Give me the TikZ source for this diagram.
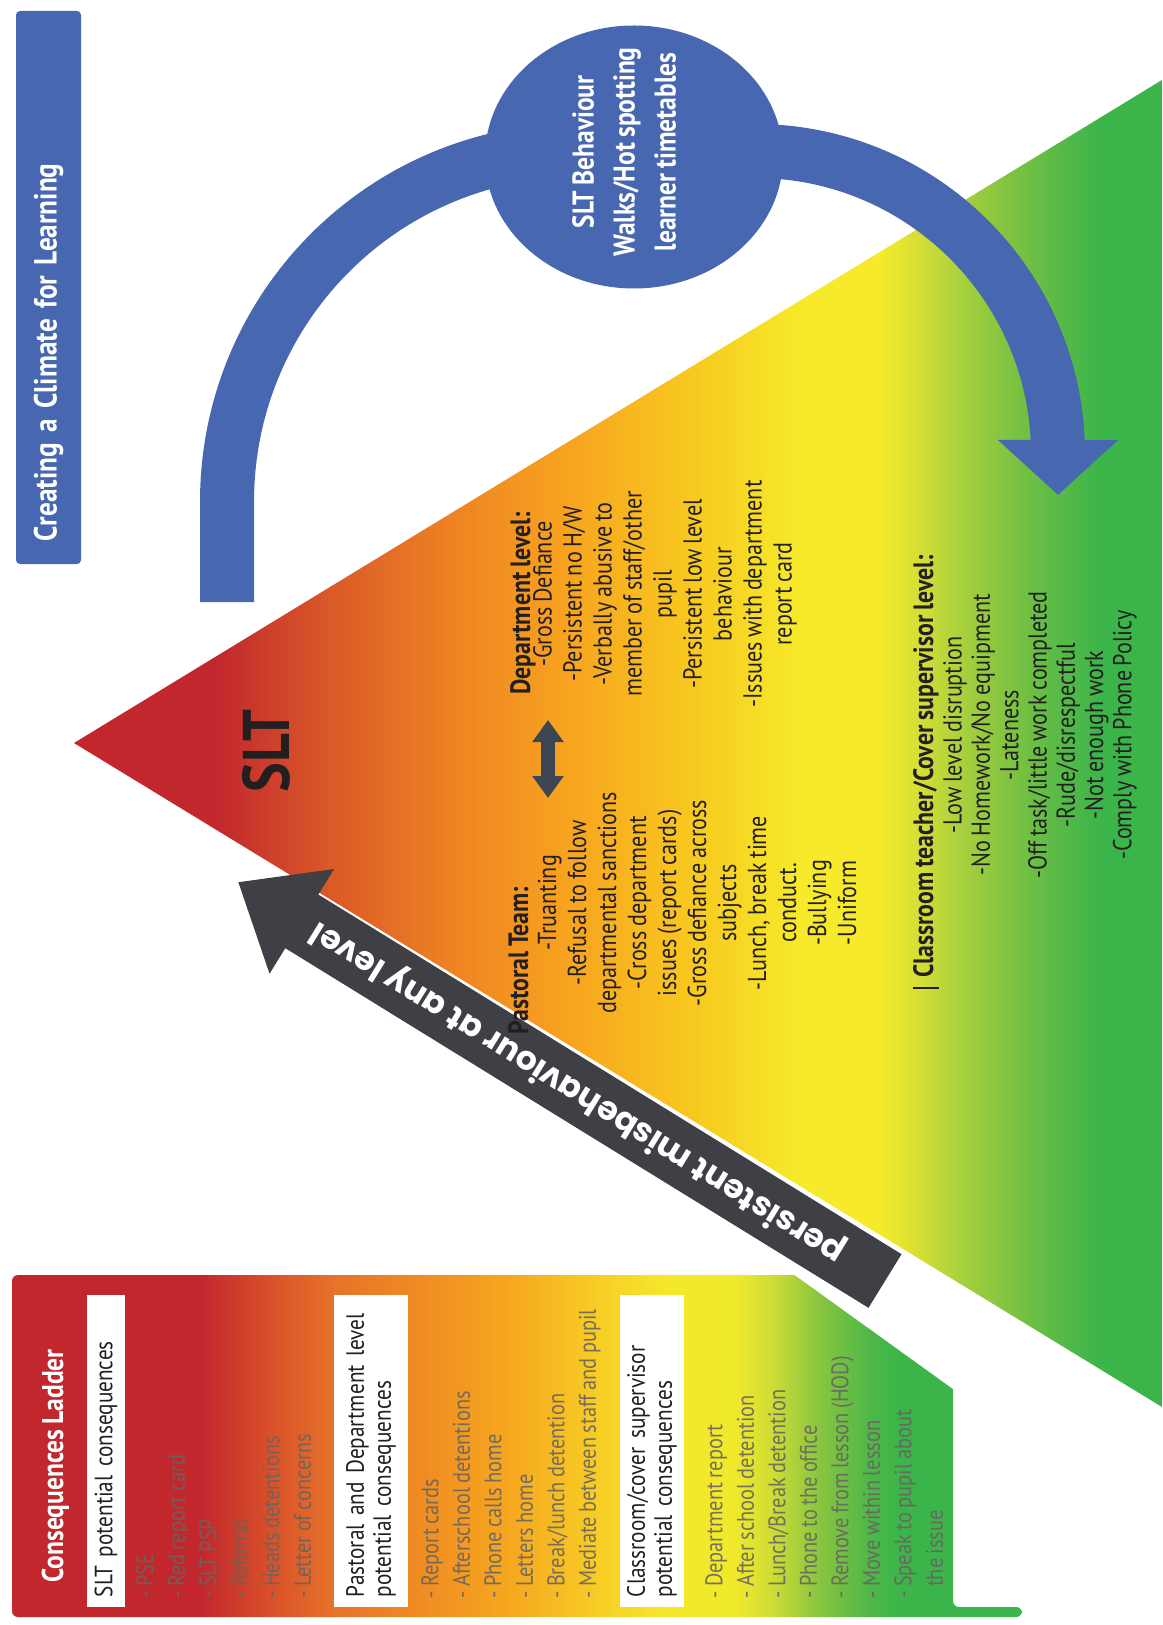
\documentclass[tikz,border=0pt]{standalone}
\usepackage{fontspec}
\setmainfont[FakeStretch=0.85,WordSpace=0.8]{PT Sans}
\newfontfamily\arrowfont{Poppins}
\usepackage{xcolor}
\usetikzlibrary{arrows.meta,positioning,shapes.geometric}

\definecolor{climblue}{RGB}{72,103,177}
\definecolor{arrowgrey}{RGB}{62,64,70}
\definecolor{slategrey}{RGB}{59,70,82}
\definecolor{inkblack}{RGB}{35,31,32}
\definecolor{itemgrey}{RGB}{105,100,95}
\definecolor{shRed}{RGB}{193,39,45}
\definecolor{shA}{RGB}{218,90,40}
\definecolor{shB}{RGB}{238,130,35}
\definecolor{shC}{RGB}{247,161,31}
\definecolor{shD}{RGB}{248,200,31}
\definecolor{shE}{RGB}{246,234,42}
\definecolor{shG}{RGB}{212,222,54}
\definecolor{shH}{RGB}{169,209,61}
\definecolor{shI}{RGB}{134,197,64}
\definecolor{shJ}{RGB}{93,187,70}
\definecolor{shGreen}{RGB}{59,181,74}
\definecolor{ldA}{RGB}{216,78,42}
\definecolor{ldB}{RGB}{230,115,42}
\definecolor{ldC}{RGB}{240,140,34}
\definecolor{ldD}{RGB}{246,169,31}
\definecolor{ldE}{RGB}{247,207,38}
\definecolor{ldF}{RGB}{245,232,42}
\definecolor{ldG}{RGB}{240,233,44}
\definecolor{ldH}{RGB}{207,221,53}
\definecolor{ldI}{RGB}{140,198,63}
\definecolor{ldJ}{RGB}{77,183,72}

\pgfdeclarehorizontalshading{pyramidshade}{100bp}{color(0bp)=(shRed); color(31.5bp)=(shRed); color(36.8bp)=(shA); color(42.3bp)=(shB); color(47.3bp)=(shC); color(53.3bp)=(shD); color(58.4bp)=(shE); color(62bp)=(shE); color(63.9bp)=(shG); color(65.7bp)=(shH); color(67.6bp)=(shI); color(69.9bp)=(shJ); color(72.2bp)=(shGreen); color(100bp)=(shGreen)}
\pgfdeclarehorizontalshading{laddershade}{100bp}{color(0bp)=(shRed); color(34.3bp)=(shRed); color(37.6bp)=(ldA); color(40.9bp)=(ldB); color(45.3bp)=(ldC); color(49.8bp)=(ldD); color(54.2bp)=(ldE); color(57.5bp)=(ldF); color(60.8bp)=(ldG); color(62.6bp)=(ldH); color(64.8bp)=(ldI); color(67.5bp)=(ldJ); color(69bp)=(shGreen); color(100bp)=(shGreen)}

\begin{document}
\begin{tikzpicture}
	[x=0.5pt,y=-0.5pt,
	rot/.style={rotate=90,inner sep=0pt},
	ladderitems/.style={rot,anchor=north west,align=left,text=itemgrey,text opacity=0.9,font=\fontsize{12}{15.75}\selectfont},
	subhead/.style={rot,fill=white,minimum width=156pt,text width=146pt,inner xsep=5pt,align=left,text=inkblack,font=\fontsize{12.5}{13.5}\selectfont},
	levelhead/.style={rot,anchor=base west,text=inkblack,font=\bfseries\fontsize{14}{16}\selectfont},
	levelbody/.style={rot,align=center,text=inkblack,font=\fontsize{13}{15}\selectfont},
	bluearc/.style={draw=climblue,line width=27pt,-{Triangle[width=58.5pt,length=27.5pt]}},
	misbehave/.style={draw=arrowgrey,line width=31.5pt,-{Triangle[width=59pt,length=37.5pt]}},
	twoway/.style={draw=slategrey,line width=7pt,{Triangle[width=15pt,length=11pt]}-{Triangle[width=15pt,length=11pt]}}]
	\useasboundingbox (0,0) rectangle (1162,1625);
	\shade[shading=laddershade,rounded corners=3pt] (12,1617) -- (12,1275) -- (953,1275) -- (953,1607) -- (1022,1607) -- (1022,1617) -- cycle;
	\node[rot,anchor=base west,text=white,font=\bfseries\fontsize{15}{18}\selectfont] (laddertitle) at (63,1583) {Consequences Ladder};
	\node[subhead,minimum height=19pt] (sltbox) at (106,1451) {SLT potential consequences};
	\node[ladderitems] (sltlist) at (136,1599) {- PSE\\- Red report card\\- SLT PSP\\- Referral\\- Heads detentions\\- Letter of concerns};
	\node[subhead,minimum height=37pt] (pastoralbox) at (371,1451) {Pastoral and Department level\\potential consequences};
	\node[ladderitems] (pastorallist) at (421,1599) {- Report cards\\- Afterschool detentions\\- Phone calls home\\- Letters home\\- Break/lunch detention\\- Mediate between staff and pupil};
	\node[subhead,minimum height=32pt] (classbox) at (652,1451) {Classroom/cover supervisor\\potential consequences};
	\node[ladderitems] (classlist) at (705,1599) {- Department report\\- After school detention\\- Lunch/Break detention\\- Phone to the office\\- Remove from lesson (HOD)\\- Move within lesson\\- Speak to pupil about\\\phantom{- }the issue};
	\fill[white] (760,1150) -- (1010,1305) -- (1010,1430) -- (760,1250) -- cycle;
	\shade[shading=pyramidshade] (74,743) -- (1162,80) -- (1162,1407) -- cycle;
	\coordinate (arcstart) at (227,602);
	\coordinate (arcend) at (1058,495);
	\draw[bluearc] (arcstart) -- (227,502) .. controls (227,307.6) and (383.6,150) .. (579,150) -- (755,151) .. controls (922.3,151) and (1058,286.7) .. (1058,454) -- (arcend);
	\node[ellipse,fill=climblue,minimum width=149pt,minimum height=131.5pt,inner sep=0pt] (walks) at (634,157) {};
	\node[rot,align=center,text=white,font=\bfseries\fontsize{15}{20.5}\selectfont] (walkstext) at (624,152) {SLT Behaviour\\Walks/Hot spotting\\learner timetables};
	\coordinate (tail) at (885,1281);
	\coordinate (tip) at (238,882);
	\draw[misbehave] (tail) -- (tip);
	\node[rotate=148.3,inner sep=0pt,text=white,font=\arrowfont\bfseries\fontsize{16.5}{18}\selectfont] (persist) at (578,1092) {persistent misbehaviour at any level};
	\node[rot,text=inkblack,font=\bfseries\fontsize{33}{38}\selectfont] (slt) at (266,751) {SLT};
	\node[levelhead] (pastoralhead) at (528,1035) {Pastoral Team:};
	\node[levelbody] (pastoralbody) at (697,903) {-Truanting\\-Refusal to follow\\departmental sanctions\\-Cross department\\issues (report cards)\\-Gross defiance across\\subjects\\-Lunch, break time\\conduct.\\-Bullying\\-Uniform};
	\node[levelhead] (depthead) at (530,695) {Department level:};
	\node[levelbody] (deptbody) at (665,594) {-Gross Defiance\\-Persistent no H/W\\-Verbally abusive to\\member of staff/other\\pupil\\-Persistent low level\\behaviour\\-Issues with department\\report card};
	\coordinate (twowaylow) at (548,798);
	\coordinate (twowayhigh) at (548,720);
	\draw[twoway] (twowaylow) -- (twowayhigh);
	\node[levelhead] (classhead) at (933,978) {Classroom teacher/Cover supervisor level:};
	\draw[inkblack,line width=0.7pt] ([yshift=-5pt]classhead.south west) -- ([yshift=-5pt]classhead.north west);
	\node[levelbody,font=\fontsize{13}{14.15}\selectfont] (classbody) at (1040,735) {-Low level disruption\\-No Homework/No equipment\\-Lateness\\-Off task/little work completed\\-Rude/disrespectful\\-Not enough work\\-Comply with Phone Policy};
	\node[rot,fill=climblue,rounded corners=2pt,minimum width=276.5pt,minimum height=32.5pt,text width=253.5pt,inner xsep=11.5pt,align=left,text=white,font=\bfseries\fontsize{16}{19}\selectfont] (climate) at (48.5,287.5) {Creating a Climate for Learning};
\end{tikzpicture}
\end{document}
